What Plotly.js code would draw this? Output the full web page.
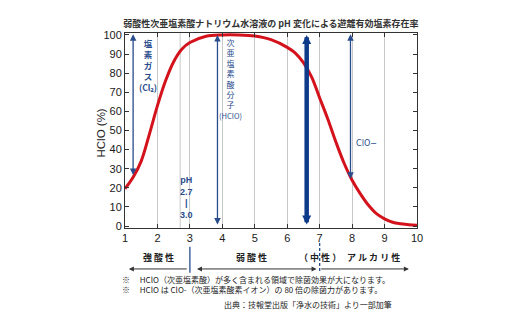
<!DOCTYPE html>
<html><head><meta charset="utf-8">
<script src="https://cdn.plot.ly/plotly-3.0.1.min.js"></script>
<style>html,body{margin:0;padding:0;background:#fff}#c{width:520px;height:323px}</style>
</head><body><div id="c"></div>
<script>
// Curve data
const pH =   [1.0, 1.25, 1.5, 1.75, 2.0, 2.25, 2.5, 2.75, 3.0, 3.5, 4.0, 4.5, 5.0, 5.5, 6.0, 6.25, 6.5, 6.75, 7.0, 7.25, 7.5, 7.75, 8.0, 8.25, 8.5, 8.75, 9.0, 9.25, 9.5, 9.75, 10.0];
const hclo = [19.5, 25.5, 34, 48, 63, 76, 86, 92.5, 96, 99.3, 100, 100, 99.4, 97.5, 93.5, 90.5, 85.5, 78, 67, 56, 44, 33, 24, 17, 11, 6.5, 3.8, 2.0, 1.2, 0.7, 0.5];
const xTicks = [1,2,3,4,5,6,7,8,9,10];
const yTicks = [0,10,20,30,40,50,60,70,80,90,100];
const extraGrid = [2.7];
// Vertical arrows: [pH, top value, bottom value]
const cl2Arrow = [1.25, 100.3, 26];
const hcloArrow = [3.85, 100, 0];
const boldArrow = [6.6, 100, 0];
const cloArrow = [7.95, 100.3, 24];

const BLUE = '#2a4c8c', NAVY = '#0e3a8a', JP = '"Noto Sans CJK JP", "Noto Sans", sans-serif';
const ann = [];
function txt(t, x, y, opt) {
  ann.push(Object.assign({text: t, x: x, y: y, xref: 'x', yref: 'y', showarrow: false,
    font: {family: JP, size: 10, color: BLUE}, xanchor: 'center', yanchor: 'middle'}, opt || {}));
}
function varrow(a, w, col, hs) {
  ann.push({x: a[0], y: a[1], ax: a[0], ay: a[2], xref: 'x', yref: 'y', axref: 'x', ayref: 'y',
    text: '', showarrow: true, arrowhead: 2, arrowside: 'end+start', arrowsize: hs, arrowwidth: w, arrowcolor: col});
}
varrow(cl2Arrow, 1.3, BLUE, 1);
varrow(hcloArrow, 1.3, BLUE, 1);
varrow(boldArrow, 4.5, NAVY, 0.4);
varrow(cloArrow, 1.3, BLUE, 1);

txt('塩<br>素<br>ガ<br>ス<br>(Cl₂)', 1.7, 84.3, {font: {family: JP, size: 8.5, color: BLUE, weight: 'bold'}});
txt('次<br>亜<br>塩<br>素<br>酸<br>分<br>子<br><span style="font-size:7.5px">(HClO)</span>', 4.25, 77.1, {font: {family: JP, size: 8, color: BLUE}});
txt('pH<br>2.7<br>|<br>3.0', 2.88, 15.1, {font: {family: '"Liberation Sans", Arial, sans-serif', size: 9, color: BLUE, weight: 'bold'}});
txt('ClO−', 8.05, 43.7, {xanchor: 'left', font: {family: '"DejaVu Sans Condensed", "Liberation Sans", sans-serif', size: 9, color: BLUE}});

// Below-axis labels (paper y)
function ptxt(t, x, y, opt) {
  ann.push(Object.assign({text: t, x: x, y: y, xref: 'x', yref: 'paper', showarrow: false,
    font: {family: JP, size: 9, color: '#222', weight: 'bold'}, xanchor: 'center', yanchor: 'middle'}, opt || {}));
}
ptxt('強 酸 性', 2.03, -0.149);
ptxt('弱 酸 性', 4.9, -0.149);
ptxt('（ 中 性 ）', 7.0, -0.149);
ptxt('ア ル カ リ 性', 8.67, -0.149);
ptxt('pH', 0.62, -0.05, {font: {family: '"Liberation Sans", Arial, sans-serif', size: 10, color: '#222'}});
function harrow(xh, xt, side) {
  ann.push({x: xh, ax: xt, y: -0.21, ay: 0, xref: 'x', axref: 'x', yref: 'paper', ayref: 'pixel',
    text: '', showarrow: true, arrowhead: 2, arrowside: side, arrowsize: 1, arrowwidth: 1, arrowcolor: '#333'});
}
harrow(1.12, 2.95, 'end');
harrow(3.22, 6.95, 'end+start');
harrow(9.75, 7.0, 'end');

// Axis title and footer
ann.push({text: 'HClO (%)', xref: 'paper', yref: 'paper', x: -0.108, y: 0.487, textangle: -90, showarrow: false,
  font: {family: '"Liberation Sans", Arial, sans-serif', size: 11.5, color: '#222'}});
const foot = {family: JP, size: 8, color: '#222'};
ann.push({text: '※　 HClO（次亜塩素酸）が多く含まれる領域で除菌効果が大になります。', xref: 'paper', yref: 'paper', x: -0.017, y: -0.301, xanchor: 'left', showarrow: false, font: foot});
ann.push({text: '※　 HClO は ClO-（次亜塩素酸素イオン）の 80 倍の除菌力があります。', xref: 'paper', yref: 'paper', x: -0.017, y: -0.352, xanchor: 'left', showarrow: false, font: foot});
ann.push({text: '出典：技報堂出版「浄水の技術」より一部加筆', xref: 'paper', yref: 'paper', x: 0.627, y: -0.429, xanchor: 'center', showarrow: false, font: foot});

const shapes = extraGrid.map(g => ({type: 'line', xref: 'x', yref: 'paper', x0: g, x1: g, y0: 0, y1: 1, line: {color: '#c8c8c8', width: 1}, layer: 'below'}));
shapes.push({type: 'line', xref: 'x', yref: 'paper', x0: 3, x1: 3, y0: -0.096, y1: -0.229, line: {color: BLUE, width: 1.3}});
shapes.push({type: 'line', xref: 'x', yref: 'paper', x0: 7, x1: 7, y0: -0.077, y1: -0.229, line: {color: BLUE, width: 1.3, dash: '3px,2px'}});

Plotly.newPlot('c', [{x: pH, y: hclo, type: 'scatter', mode: 'lines', line: {color: '#d3121c', width: 3, shape: 'spline', smoothing: 1}, hoverinfo: 'none'}], {
  width: 520, height: 323,
  margin: {l: 125, r: 103, t: 33, b: 95},
  paper_bgcolor: '#fff', plot_bgcolor: '#fff', showlegend: false,
  title: {text: '弱酸性次亜塩素酸ナトリウム水溶液の pH 変化による遊離有効塩素存在率', x: 0.521, xanchor: 'center', y: 0.926, yanchor: 'middle', yref: 'container',
    font: {family: JP, size: 9, color: '#333', weight: 'bold'}},
  xaxis: {range: [1, 10], tickvals: xTicks, ticktext: xTicks.map(String), showgrid: true, gridcolor: '#c8c8c8', gridwidth: 1,
    showline: true, linecolor: '#333', linewidth: 1, mirror: 'ticks', ticks: 'inside', ticklen: 4, tickcolor: '#333', zeroline: false,
    tickfont: {family: '"Liberation Sans", Arial, sans-serif', size: 11, color: '#1a1a1a'}},
  yaxis: {range: [-1, 101], tickvals: yTicks, showgrid: false, showline: true, linecolor: '#333', linewidth: 1, mirror: 'ticks',
    ticks: 'inside', ticklen: 4, tickcolor: '#333', zeroline: false,
    tickfont: {family: '"Liberation Sans", Arial, sans-serif', size: 11, color: '#1a1a1a'}},
  annotations: ann, shapes: shapes
}, {staticPlot: true});
</script></body></html>
